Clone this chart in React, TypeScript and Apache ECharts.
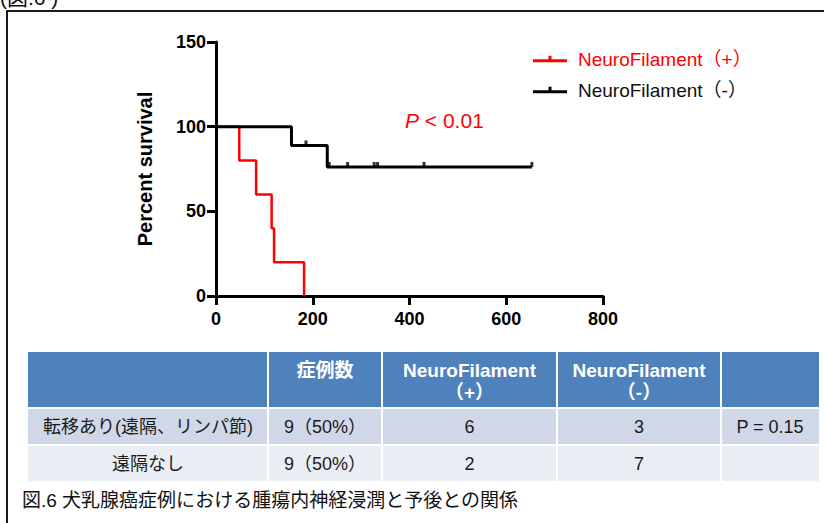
import React, { useEffect, useRef } from "react";
import * as echarts from "echarts";

// ---- Data ----
const redName = "NeuroFilament（+）";
const blackName = "NeuroFilament（-）";
const redTimes = [0, 48, 83, 115, 120, 182];
const redSurvival = [100, 80, 60, 40, 20, 0];
const blackTimes = [0, 156, 230, 653];
const blackSurvival = [100, 88.9, 76.2, 76.2];
const blackCensorTimes = [186, 234, 272, 327, 334, 430, 653];
const blackCensorSurvival = [88.9, 76.2, 76.2, 76.2, 76.2, 76.2, 76.2];
const xTicks = { min: 0, max: 800, interval: 200 };
const yTicks = { min: 0, max: 150, interval: 50 };

const tableHeader = ["", "症例数", "NeuroFilament\n（+）", "NeuroFilament\n（-）", ""];
const tableRow1 = ["転移あり(遠隔、リンパ節)", "9（50%）", "6", "3", "P = 0.15"];
const tableRow2 = ["遠隔なし", "9（50%）", "2", "7", ""];
const caption = "図.6 犬乳腺癌症例における腫瘍内神経浸潤と予後との関係";
const pText = "P < 0.01";

const FONT = "'Liberation Sans', Arial, 'Noto Sans CJK JP', sans-serif";

function buildTable(): any[] {
  const colX = [28, 268, 382, 557, 721, 819];
  const rows = [
    { y: 352, h: 55, fill: "#4F81BD", data: tableHeader, header: true },
    { y: 409, h: 35, fill: "#D0D8E8", data: tableRow1, header: false },
    { y: 446, h: 35, fill: "#E9EDF4", data: tableRow2, header: false },
  ];
  const els: any[] = [];
  rows.forEach((r) => {
    for (let c = 0; c < 5; c++) {
      const x0 = colX[c] + (c === 0 ? 0 : 1);
      const x1 = colX[c + 1] - (c === 4 ? 0 : 1);
      els.push({
        type: "rect",
        shape: { x: x0, y: r.y, width: x1 - x0, height: r.h },
        style: { fill: r.fill },
        silent: true,
      });
      const t = r.data[c];
      if (t) {
        const cx = (colX[c] + colX[c + 1]) / 2;
        els.push({
          type: "text",
          x: cx,
          y: r.header ? 359 : r.y + r.h / 2,
          style: {
            text: t,
            fill: r.header ? "#ffffff" : "#1a1a1a",
            fontSize: r.header ? 19 : 18,
            fontWeight: r.header ? "bold" : "normal",
            fontFamily: FONT,
            lineHeight: 22,
            align: "center",
            verticalAlign: r.header ? "top" : "middle",
          },
          silent: true,
        });
      }
    }
  });
  return els;
}

export default function App() {
  const ref = useRef<HTMLDivElement>(null);
  useEffect(() => {
    if (!ref.current) return;
    const chart = echarts.init(ref.current, null, { renderer: "svg" });
    const redData = redTimes.map((t, i) => [t, redSurvival[i]]);
    const blackData = blackTimes.map((t, i) => [t, blackSurvival[i]]);
    const censorData = blackCensorTimes.map((t, i) => [t, blackCensorSurvival[i]]);
    const legendIcon =
      "path://M0,4L34,4L34,7L0,7Z M15.5,0.5L18.5,0.5L18.5,4L15.5,4Z";
    chart.setOption({
      animation: false,
      backgroundColor: "#ffffff",
      grid: { left: 216, top: 42, width: 387, height: 254 },
      legend: {
        orient: "vertical",
        left: 528,
        top: 44,
        itemWidth: 34,
        itemHeight: 7,
        itemGap: 11,
        icon: legendIcon,
        textStyle: {
          fontSize: 19,
          fontFamily: FONT,
          lineHeight: 20,
          padding: [0, 0, 0, 6],
        },
        data: [
          { name: redName, textStyle: { color: "#ff0000" } },
          { name: blackName, textStyle: { color: "#111111" } },
        ],
      },
      xAxis: {
        type: "value",
        min: xTicks.min,
        max: xTicks.max,
        interval: xTicks.interval,
        splitLine: { show: false },
        axisLine: { show: true, lineStyle: { color: "#000", width: 3 } },
        axisTick: { show: true, length: 9, lineStyle: { color: "#000", width: 3 } },
        axisLabel: {
          color: "#000",
          fontSize: 18,
          fontWeight: "bold",
          fontFamily: FONT,
          margin: 14,
        },
      },
      yAxis: {
        type: "value",
        min: yTicks.min,
        max: yTicks.max,
        interval: yTicks.interval,
        name: "Percent survival",
        nameLocation: "middle",
        nameGap: 61,
        nameTextStyle: {
          color: "#000",
          fontSize: 20,
          fontWeight: "bold",
          fontFamily: FONT,
        },
        splitLine: { show: false },
        axisLine: { show: true, lineStyle: { color: "#000", width: 3 } },
        axisTick: { show: true, length: 9, lineStyle: { color: "#000", width: 3 } },
        axisLabel: {
          color: "#000",
          fontSize: 18,
          fontWeight: "bold",
          fontFamily: FONT,
          margin: 10,
        },
      },
      series: [
        {
          name: redName,
          type: "line",
          step: "end",
          data: redData,
          showSymbol: false,
          color: "#ff0000",
          lineStyle: { color: "#ff0000", width: 2.5 },
        },
        {
          name: blackName,
          type: "line",
          step: "end",
          data: blackData,
          showSymbol: false,
          color: "#000000",
          lineStyle: { color: "#000000", width: 3 },
        },
        {
          name: "censored",
          type: "scatter",
          data: censorData,
          symbol: "rect",
          symbolSize: [3, 5],
          symbolOffset: [0, -2.5],
          itemStyle: { color: "#000000" },
          silent: true,
        },
      ],
      graphic: [
        {
          type: "rect",
          shape: { x: 7, y: 11, width: 900, height: 600 },
          style: { fill: "none", stroke: "#1a1a1a", lineWidth: 2 },
          silent: true,
        },
        {
          type: "text",
          x: 0,
          y: 8,
          style: {
            text: "(図.6 )",
            fill: "#111",
            fontSize: 21,
            fontFamily: FONT,
            align: "left",
            verticalAlign: "bottom",
          },
          silent: true,
        },
        {
          type: "text",
          x: 405,
          y: 120,
          style: {
            text: "{i|P}{n|" + pText.slice(1) + "}",
            align: "left",
            verticalAlign: "middle",
            fontSize: 21,
            fontFamily: FONT,
            fill: "#ff0000",
            rich: {
              i: { fontStyle: "italic", fontSize: 21, fontFamily: FONT, fill: "#ff0000" },
              n: { fontSize: 21, fontFamily: FONT, fill: "#ff0000" },
            },
          },
          silent: true,
        },
        ...buildTable(),
        {
          type: "text",
          x: 22,
          y: 500,
          style: {
            text: caption,
            fill: "#111",
            fontSize: 19,
            fontFamily: FONT,
            align: "left",
            verticalAlign: "middle",
          },
          silent: true,
        },
      ],
    });
    return () => chart.dispose();
  }, []);
  return (
    <div
      ref={ref}
      style={{ position: "absolute", left: 0, top: 0, width: 824, height: 523 }}
    />
  );
}
